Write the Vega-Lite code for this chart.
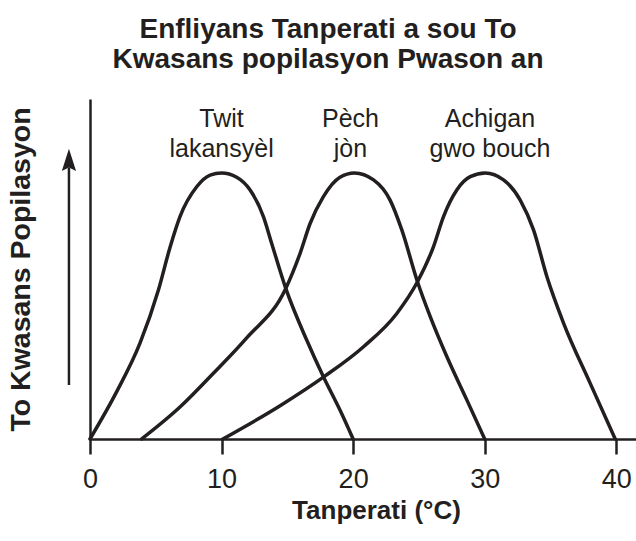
{
  "$schema": "https://vega.github.io/schema/vega-lite/v6.json",
  "width": 546,
  "height": 340,
  "autosize": "none",
  "padding": {"left": 90, "top": 99, "right": 0, "bottom": 102},
  "background": "white",
  "config": {"view": {"stroke": null}, "font": "Liberation Sans"},
  "title": {
    "text": ["Enfliyans Tanperati a sou To", "Kwasans popilasyon Pwason an"],
    "font": "Liberation Sans",
    "fontSize": 28,
    "fontWeight": "bold",
    "color": "#231f20",
    "anchor": "middle",
    "dx": -35,
    "offset": 25,
    "lineHeight": 30
  },
  "datasets": {
    "curves": [
      {"fish": "Twit lakansyèl", "t": 0, "h": 0},
      {"fish": "Twit lakansyèl", "t": 2.03, "h": 0.178},
      {"fish": "Twit lakansyèl", "t": 3.8, "h": 0.36},
      {"fish": "Twit lakansyèl", "t": 5.2, "h": 0.56},
      {"fish": "Twit lakansyèl", "t": 6.08, "h": 0.72},
      {"fish": "Twit lakansyèl", "t": 6.84, "h": 0.836},
      {"fish": "Twit lakansyèl", "t": 8.11, "h": 0.948},
      {"fish": "Twit lakansyèl", "t": 9.13, "h": 0.992},
      {"fish": "Twit lakansyèl", "t": 10, "h": 1},
      {"fish": "Twit lakansyèl", "t": 11.15, "h": 0.984},
      {"fish": "Twit lakansyèl", "t": 12.17, "h": 0.936},
      {"fish": "Twit lakansyèl", "t": 13.18, "h": 0.836},
      {"fish": "Twit lakansyèl", "t": 13.81, "h": 0.735},
      {"fish": "Twit lakansyèl", "t": 14.88, "h": 0.566},
      {"fish": "Twit lakansyèl", "t": 16.47, "h": 0.372},
      {"fish": "Twit lakansyèl", "t": 17.74, "h": 0.234},
      {"fish": "Twit lakansyèl", "t": 19.0, "h": 0.109},
      {"fish": "Twit lakansyèl", "t": 20, "h": 0},
      {"fish": "Pèch jòn", "t": 3.93, "h": 0},
      {"fish": "Pèch jòn", "t": 6.84, "h": 0.12},
      {"fish": "Pèch jòn", "t": 9.38, "h": 0.247},
      {"fish": "Pèch jòn", "t": 11.91, "h": 0.38},
      {"fish": "Pèch jòn", "t": 14.88, "h": 0.566},
      {"fish": "Pèch jòn", "t": 15.97, "h": 0.698},
      {"fish": "Pèch jòn", "t": 16.73, "h": 0.81},
      {"fish": "Pèch jòn", "t": 17.74, "h": 0.911},
      {"fish": "Pèch jòn", "t": 19.0, "h": 0.984},
      {"fish": "Pèch jòn", "t": 20.1, "h": 1},
      {"fish": "Pèch jòn", "t": 21.55, "h": 0.974},
      {"fish": "Pèch jòn", "t": 22.81, "h": 0.898},
      {"fish": "Pèch jòn", "t": 23.7, "h": 0.786},
      {"fish": "Pèch jòn", "t": 24.89, "h": 0.591},
      {"fish": "Pèch jòn", "t": 25.86, "h": 0.46},
      {"fish": "Pèch jòn", "t": 27.12, "h": 0.31},
      {"fish": "Pèch jòn", "t": 28.64, "h": 0.147},
      {"fish": "Pèch jòn", "t": 30, "h": 0},
      {"fish": "Achigan gwo bouch", "t": 10.1, "h": 0},
      {"fish": "Achigan gwo bouch", "t": 14.45, "h": 0.125},
      {"fish": "Achigan gwo bouch", "t": 17.9, "h": 0.238},
      {"fish": "Achigan gwo bouch", "t": 20.79, "h": 0.347},
      {"fish": "Achigan gwo bouch", "t": 23.32, "h": 0.472},
      {"fish": "Achigan gwo bouch", "t": 24.89, "h": 0.591},
      {"fish": "Achigan gwo bouch", "t": 26.11, "h": 0.723},
      {"fish": "Achigan gwo bouch", "t": 26.87, "h": 0.836},
      {"fish": "Achigan gwo bouch", "t": 27.88, "h": 0.936},
      {"fish": "Achigan gwo bouch", "t": 28.9, "h": 0.986},
      {"fish": "Achigan gwo bouch", "t": 30.04, "h": 1},
      {"fish": "Achigan gwo bouch", "t": 31.43, "h": 0.974},
      {"fish": "Achigan gwo bouch", "t": 32.7, "h": 0.898},
      {"fish": "Achigan gwo bouch", "t": 33.71, "h": 0.786},
      {"fish": "Achigan gwo bouch", "t": 34.73, "h": 0.61},
      {"fish": "Achigan gwo bouch", "t": 36.0, "h": 0.435},
      {"fish": "Achigan gwo bouch", "t": 38.02, "h": 0.209},
      {"fish": "Achigan gwo bouch", "t": 39.92, "h": 0}
    ],
    "labels": [
      {"label": "Twit\nlakansyèl", "t": 10},
      {"label": "Pèch\njòn", "t": 19.8},
      {"label": "Achigan\ngwo bouch", "t": 30.4}
    ],
    "arrow": [
      {"name": "Kwasans"}
    ]
  },
  "layer": [
    {
      "data": {"name": "curves"},
      "mark": {"type": "line", "interpolate": "monotone", "strokeWidth": 3.5, "color": "#231f20", "strokeCap": "round", "strokeJoin": "round"},
      "encoding": {
        "x": {
          "field": "t",
          "type": "quantitative",
          "scale": {"domain": [0, 41.5], "nice": false, "zero": false},
          "axis": {
            "values": [0, 10, 20, 30, 40],
            "title": "Tanperati (°C)",
            "titleFont": "Liberation Sans",
            "titleFontSize": 26,
            "titleFontWeight": "bold",
            "titleColor": "#231f20",
            "titlePadding": 5,
            "titleX": 286,
            "labelFont": "Liberation Sans",
            "labelFontSize": 27,
            "labelColor": "#231f20",
            "labelPadding": 12,
            "labelFlush": false,
            "domainColor": "#231f20",
            "domainWidth": 2.5,
            "tickColor": "#231f20",
            "tickWidth": 2.5,
            "tickSize": 15,
            "grid": false
          }
        },
        "y": {
          "field": "h",
          "type": "quantitative",
          "scale": {"domain": [0, 1.278], "nice": false},
          "axis": {
            "title": "To Kwasans Popilasyon",
            "titleFont": "Liberation Sans",
            "titleFontSize": 28.5,
            "titleFontWeight": "bold",
            "titleColor": "#231f20",
            "titlePadding": 55,
            "labels": false,
            "ticks": false,
            "grid": false,
            "domainColor": "#231f20",
            "domainWidth": 2.5
          }
        },
        "detail": {"field": "fish", "type": "nominal"}
      }
    },
    {
      "data": {"name": "labels"},
      "mark": {"type": "text", "lineBreak": "\n", "font": "Liberation Sans", "fontSize": 25, "lineHeight": 30, "baseline": "alphabetic", "align": "center", "color": "#231f20"},
      "encoding": {
        "x": {"field": "t", "type": "quantitative"},
        "y": {"datum": 1.173},
        "text": {"field": "label"}
      }
    },
    {
      "data": {"name": "arrow"},
      "mark": {"type": "rule", "strokeWidth": 2.5, "color": "#231f20"},
      "encoding": {
        "x": {"datum": -1.6},
        "y": {"datum": 0.203},
        "y2": {"datum": 1.02}
      }
    },
    {
      "data": {"name": "arrow"},
      "mark": {"type": "point", "shape": "M0,-1.5L0.9,1.3L0,0.85L-0.9,1.3Z", "filled": true, "size": 250, "color": "#231f20", "opacity": 1, "strokeWidth": 0},
      "encoding": {
        "x": {"datum": -1.6},
        "y": {"datum": 1.046}
      }
    }
  ]
}
